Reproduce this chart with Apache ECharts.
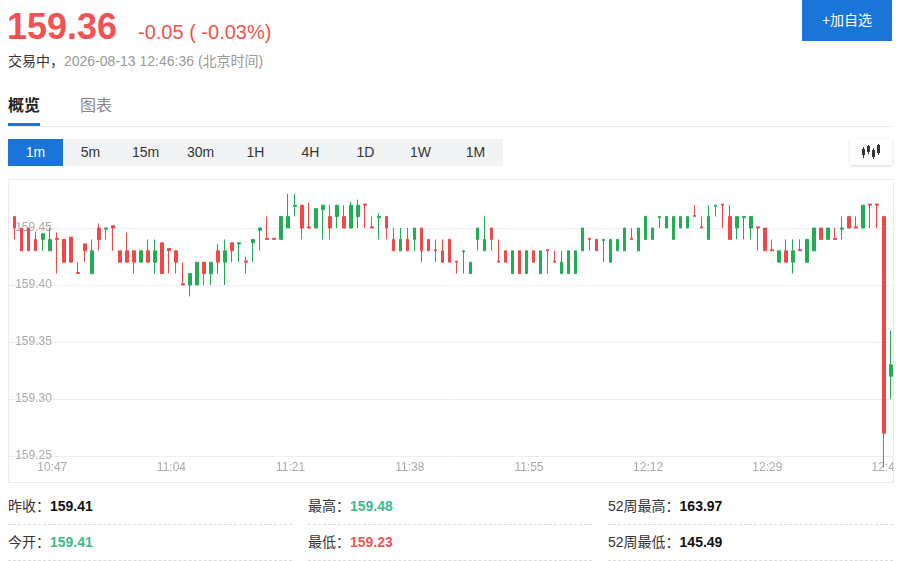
<!DOCTYPE html>
<html>
<head>
<meta charset="utf-8">
<script src="https://cdn.jsdelivr.net/npm/echarts@6/dist/echarts.min.js"></script>
<style>
  html,body{margin:0;padding:0;background:#fff;}
  body{width:905px;height:561px;overflow:hidden;position:relative;
       font-family:"Helvetica Neue",Helvetica,"Liberation Sans",Arial,"Noto Sans CJK SC",sans-serif;}
  .abs{position:absolute;white-space:nowrap;}
  #price{left:7px;top:5px;font-size:36px;line-height:44px;font-weight:bold;color:#f25252;}
  #chg{left:138px;top:19px;font-size:20px;line-height:26px;color:#f25252;}
  #status{left:8px;top:51px;font-size:14px;line-height:20px;color:#333;}
  #status span{color:#999;}
  #addBtn{left:802px;top:0;width:90px;height:41px;background:#1b74d8;color:#fff;font-size:14px;line-height:41px;text-align:center;}
  #tab1{left:8px;top:95px;font-size:16px;line-height:22px;font-weight:bold;color:#222;}
  #tab2{left:80px;top:95px;font-size:16px;line-height:22px;color:#888;}
  #tabLine{left:8px;top:123px;width:32px;height:3px;background:#1b74d8;}
  #sep{left:8px;top:126px;width:885px;height:1px;background:#ececec;}
  #periods{left:8px;top:139px;width:495px;height:27px;background:#f2f3f5;display:flex;}
  #periods div{width:55px;height:27px;line-height:27px;text-align:center;font-size:14px;color:#333;}
  #periods div.on{background:#1b74d8;color:#fff;}
  #iconBtn{left:850px;top:139px;width:42px;height:26px;background:#fff;box-shadow:0 1px 3px rgba(0,0,0,0.15);}
  #box{left:8px;top:179px;width:886px;height:304px;border:1px solid #ececec;box-sizing:border-box;overflow:hidden;}
  #chart{position:absolute;left:-9px;top:0;width:905px;height:302px;}
  .stat{font-size:14px;line-height:20px;color:#333;}
  .stat b{font-weight:bold;color:#111;}
  .dash{height:0;border-top:1px dashed #dcdcdc;}
</style>
</head>
<body>
<div id="price" class="abs">159.36</div>
<div id="chg" class="abs">-0.05 ( -0.03%)</div>
<div id="status" class="abs">交易中，<span>2026-08-13 12:46:36 (北京时间)</span></div>
<div id="addBtn" class="abs">+加自选</div>
<div id="tab1" class="abs">概览</div>
<div id="tab2" class="abs">图表</div>
<div id="tabLine" class="abs"></div>
<div id="sep" class="abs"></div>
<div id="periods" class="abs"></div>
<div id="iconBtn" class="abs">
  <svg width="42" height="26" viewBox="0 0 42 26">
    <g fill="#333" stroke="#333" stroke-width="1">
      <line x1="13.5" y1="8" x2="13.5" y2="19"/><rect x="12" y="10" width="3" height="6" stroke="none"/>
      <line x1="18.5" y1="6" x2="18.5" y2="15"/><rect x="17" y="7" width="3" height="6" stroke="none"/>
      <line x1="23.5" y1="9" x2="23.5" y2="20"/><rect x="22" y="11" width="3" height="7" stroke="none"/>
      <line x1="28.5" y1="5" x2="28.5" y2="16"/><rect x="27" y="6" width="3" height="8" stroke="none"/>
    </g>
  </svg>
</div>
<div id="box" class="abs"><div id="chart"></div></div>

<div class="abs stat" style="left:8px;top:496px;">昨收：<b>159.41</b></div>
<div class="abs stat" style="left:308px;top:496px;">最高：<b style="color:#3db98c">159.48</b></div>
<div class="abs stat" style="left:608px;top:496px;">52周最高：<b>163.97</b></div>
<div class="abs dash" style="left:8px;top:524px;width:284px;"></div>
<div class="abs dash" style="left:308px;top:524px;width:284px;"></div>
<div class="abs dash" style="left:608px;top:524px;width:285px;"></div>
<div class="abs stat" style="left:8px;top:532px;">今开：<b style="color:#3db98c">159.41</b></div>
<div class="abs stat" style="left:308px;top:532px;">最低：<b style="color:#ef5656">159.23</b></div>
<div class="abs stat" style="left:608px;top:532px;">52周最低：<b>145.49</b></div>
<div class="abs dash" style="left:8px;top:560px;width:284px;"></div>
<div class="abs dash" style="left:308px;top:560px;width:284px;"></div>
<div class="abs dash" style="left:608px;top:560px;width:285px;"></div>

<script>
const periods = ['1m','5m','15m','30m','1H','4H','1D','1W','1M'];

const times = [
 '10:41','10:42','10:43','10:44','10:45','10:46','10:47','10:48','10:49','10:50',
 '10:51','10:52','10:53','10:54','10:55','10:56','10:57','10:58','10:59','11:00',
 '11:01','11:02','11:03','11:04','11:05','11:06','11:07','11:08','11:09','11:10',
 '11:11','11:12','11:13','11:14','11:15','11:16','11:17','11:18','11:19','11:20',
 '11:21','11:22','11:23','11:24','11:25','11:26','11:27','11:28','11:29','11:30',
 '11:31','11:32','11:33','11:34','11:35','11:36','11:37','11:38','11:39','11:40',
 '11:41','11:42','11:43','11:44','11:45','11:46','11:47','11:48','11:49','11:50',
 '11:51','11:52','11:53','11:54','11:55','11:56','11:57','11:58','11:59','12:00',
 '12:01','12:02','12:03','12:04','12:05','12:06','12:07','12:08','12:09','12:10',
 '12:11','12:12','12:13','12:14','12:15','12:16','12:17','12:18','12:19','12:20',
 '12:21','12:22','12:23','12:24','12:25','12:26','12:27','12:28','12:29','12:30',
 '12:31','12:32','12:33','12:34','12:35','12:36','12:37','12:38','12:39','12:40',
 '12:41','12:42','12:43','12:44','12:45','12:46','12:47'
];

const opens = [
 159.45,159.46,159.45,159.45,159.44,159.44,159.43,159.441,159.44,159.442,
 159.411,159.436,159.41,159.45,159.449,159.452,159.43,159.43,159.43,159.42,
 159.43,159.42,159.437,159.432,159.43,159.401,159.40,159.40,159.42,159.41,
 159.43,159.42,159.437,159.436,159.421,159.437,159.448,159.441,159.441,159.44,
 159.45,159.469,159.47,159.451,159.45,159.466,159.46,159.46,159.46,159.45,
 159.46,159.471,159.451,159.459,159.46,159.44,159.43,159.44,159.44,159.45,
 159.44,159.431,159.43,159.44,159.421,159.429,159.41,159.44,159.43,159.45,
 159.421,159.43,159.41,159.43,159.41,159.43,159.41,159.431,159.421,159.41,
 159.41,159.41,159.43,159.441,159.44,159.439,159.42,159.43,159.43,159.441,
 159.43,159.44,159.44,159.459,159.45,159.44,159.45,159.45,159.461,159.451,
 159.44,159.469,159.471,159.46,159.45,159.459,159.45,159.451,159.45,159.431,
 159.42,159.43,159.42,159.431,159.42,159.43,159.45,159.44,159.441,159.449,
 159.46,159.451,159.45,159.471,159.471,159.46,159.32
];
const closes = [
 159.46,159.45,159.43,159.43,159.43,159.445,159.44,159.44,159.42,159.42,
 159.41,159.43,159.43,159.44,159.45,159.45,159.42,159.42,159.42,159.43,
 159.42,159.43,159.41,159.43,159.42,159.40,159.41,159.42,159.41,159.42,
 159.42,159.43,159.43,159.437,159.42,159.44,159.45,159.44,159.44,159.46,
 159.46,159.47,159.45,159.45,159.467,159.47,159.45,159.47,159.45,159.47,
 159.47,159.47,159.45,159.46,159.45,159.43,159.44,159.43,159.45,159.43,
 159.43,159.43,159.42,159.42,159.42,159.43,159.42,159.45,159.44,159.44,
 159.42,159.42,159.43,159.41,159.43,159.42,159.43,159.43,159.42,159.42,
 159.43,159.43,159.45,159.44,159.43,159.44,159.44,159.44,159.45,159.44,
 159.45,159.46,159.45,159.46,159.46,159.46,159.46,159.46,159.46,159.45,
 159.46,159.47,159.47,159.44,159.46,159.46,159.46,159.45,159.43,159.43,
 159.43,159.42,159.43,159.43,159.44,159.45,159.44,159.45,159.44,159.45,
 159.45,159.45,159.47,159.47,159.47,159.27,159.33
];
const lows = [
 159.45,159.44,159.43,159.43,159.43,159.43,159.43,159.41,159.42,159.42,
 159.41,159.42,159.41,159.43,159.44,159.43,159.42,159.42,159.41,159.42,
 159.42,159.41,159.41,159.41,159.41,159.40,159.39,159.40,159.40,159.40,
 159.41,159.40,159.42,159.42,159.41,159.42,159.43,159.44,159.44,159.44,
 159.45,159.46,159.44,159.45,159.45,159.44,159.44,159.45,159.45,159.45,
 159.45,159.45,159.45,159.44,159.44,159.43,159.43,159.43,159.43,159.42,
 159.43,159.42,159.42,159.42,159.41,159.41,159.41,159.43,159.43,159.43,
 159.42,159.42,159.41,159.41,159.41,159.42,159.41,159.41,159.42,159.41,
 159.41,159.41,159.43,159.43,159.43,159.42,159.42,159.43,159.43,159.44,
 159.43,159.44,159.44,159.45,159.45,159.44,159.45,159.45,159.46,159.45,
 159.44,159.46,159.45,159.44,159.44,159.44,159.44,159.43,159.43,159.43,
 159.42,159.42,159.41,159.43,159.42,159.43,159.44,159.44,159.44,159.44,
 159.45,159.45,159.45,159.45,159.45,159.24,159.30
];
const highs = [
 159.46,159.46,159.45,159.45,159.447,159.445,159.45,159.446,159.44,159.442,
 159.42,159.436,159.44,159.454,159.45,159.452,159.43,159.446,159.43,159.43,
 159.44,159.44,159.437,159.432,159.43,159.42,159.41,159.42,159.42,159.42,
 159.436,159.44,159.437,159.437,159.425,159.44,159.45,159.46,159.441,159.46,
 159.48,159.48,159.47,159.472,159.467,159.47,159.47,159.47,159.47,159.473,
 159.475,159.471,159.46,159.463,159.46,159.45,159.45,159.45,159.45,159.45,
 159.44,159.44,159.44,159.44,159.421,159.43,159.42,159.45,159.46,159.45,
 159.44,159.43,159.43,159.43,159.43,159.43,159.43,159.431,159.43,159.43,
 159.43,159.43,159.45,159.441,159.44,159.44,159.44,159.44,159.45,159.45,
 159.45,159.46,159.45,159.46,159.46,159.46,159.46,159.46,159.47,159.46,
 159.47,159.47,159.471,159.47,159.46,159.46,159.46,159.451,159.45,159.44,
 159.43,159.44,159.44,159.44,159.44,159.45,159.45,159.45,159.45,159.46,
 159.46,159.46,159.47,159.471,159.471,159.46,159.36
];

const yMin = 159.25, yMax = 159.49, yStep = 0.05;
const labelStart = 6, labelEvery = 17;

// period buttons
const pEl = document.getElementById('periods');
periods.forEach((p, i) => {
  const d = document.createElement('div');
  d.textContent = p;
  if (i === 0) d.className = 'on';
  pEl.appendChild(d);
});

const candles = opens.map((o, i) => [o, closes[i], lows[i], highs[i]]);

const chart = echarts.init(document.getElementById('chart'), null, {renderer: 'canvas'});
chart.setOption({
  animation: false,
  grid: {left: 4.2, right: 10.5, top: 2.4, bottom: 26},
  xAxis: {
    type: 'category',
    data: times,
    boundaryGap: true,
    axisLine: {show: false},
    axisTick: {show: false},
    splitLine: {show: false},
    axisLabel: {
      interval: function (i) { return i >= labelStart && (i - labelStart) % labelEvery === 0; },
      color: '#a9a9a9', fontSize: 12, margin: 6, padding: [0, 0, 0, 5],
      fontFamily: '"Liberation Sans", Arial, sans-serif'
    }
  },
  yAxis: {
    type: 'value',
    min: yMin, max: yMax, interval: yStep,
    axisLine: {show: false},
    axisTick: {show: false},
    axisLabel: {
      inside: true, margin: 11, color: '#a9a9a9', fontSize: 12, showMaxLabel: false,
      fontFamily: '"Liberation Sans", Arial, sans-serif',
      formatter: function (v) { return v.toFixed(2); }
    },
    splitLine: {show: true, showMaxLine: false, lineStyle: {color: '#eeeeee', width: 1}}
  },
  series: [{
    type: 'candlestick',
    data: candles,
    barWidth: 3,
    clip: false,
    itemStyle: {
      color: '#22ad54', color0: '#ef4848',
      borderColor: '#22ad54', borderColor0: '#ef4848', borderWidth: 1
    }
  }]
});
</script>
</body>
</html>
